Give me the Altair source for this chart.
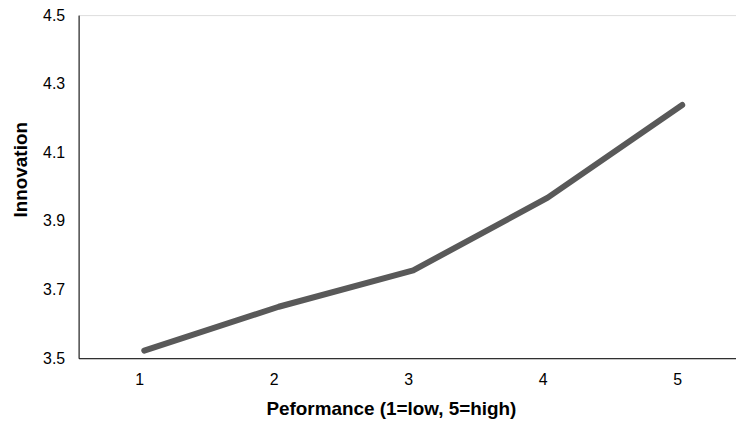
import altair as alt
import pandas as pd

performance = [1, 2, 3, 4, 5]
innovation = [3.522, 3.65, 3.756, 3.968, 4.238]
y_ticks = [3.5, 3.7, 3.9, 4.1, 4.3, 4.5]

df = pd.DataFrame({"Performance": performance, "Innovation": innovation})

FONT = "Liberation Sans"

chart = alt.Chart(df).mark_line(
    color="#595959", strokeWidth=6, strokeCap="round", strokeJoin="round"
).encode(
    x=alt.X(
        "Performance:Q",
        scale=alt.Scale(domain=[0.512, 5.4], nice=False, zero=False),
        axis=alt.Axis(
            title="Peformance (1=low, 5=high)",
            values=performance,
            format="d",
            grid=False,
            ticks=False,
            domainColor="#000000",
            domainWidth=1,
            labelFont=FONT,
            labelFontSize=16,
            labelColor="#000000",
            labelPadding=13,
            labelOffset=-5,
            titleFont=FONT,
            titleFontSize=19,
            titleFontWeight="bold",
            titleColor="#000000",
            titleX=314,
            titleY=51,
            titleBaseline="middle",
        ),
    ),
    y=alt.Y(
        "Innovation:Q",
        scale=alt.Scale(domain=[3.5, 4.5], nice=False, zero=False),
        axis=alt.Axis(
            title="Innovation",
            values=y_ticks,
            format=".1f",
            grid=False,
            ticks=False,
            domainColor="#000000",
            domainWidth=1,
            labelFont=FONT,
            labelFontSize=16,
            labelColor="#000000",
            labelPadding=14,
            titleFont=FONT,
            titleFontSize=19,
            titleFontWeight="bold",
            titleColor="#000000",
            titleX=-58,
            titleY=155,
            titleBaseline="middle",
        ),
    ),
).properties(
    width=661,
    height=345,
    autosize=alt.AutoSizeParams(type="none"),
    padding={"left": 71, "top": 6, "right": 0, "bottom": 66},
).configure_view(stroke=None).configure(background="white")

chart.save("out.html", embed_options={"renderer": "svg", "actions": False})
